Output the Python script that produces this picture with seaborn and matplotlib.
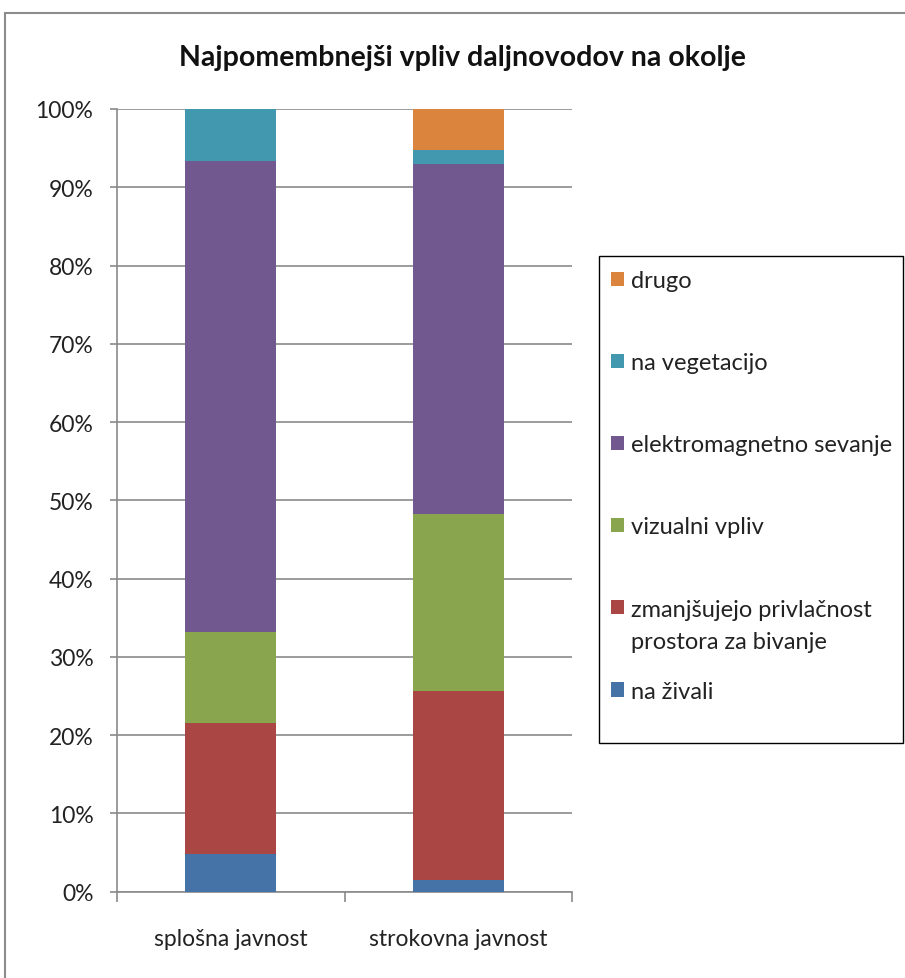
import matplotlib
matplotlib.use("Agg")
import matplotlib.pyplot as plt
import matplotlib.patches as mpatches
from matplotlib.text import Annotation
import seaborn as sns
import numpy as np
import pandas as pd

categories = ["splošna javnost", "strokovna javnost"]
series = ["na živali",
          "zmanjšujejo privlačnost",
          "vizualni vpliv",
          "elektromagnetno sevanje",
          "na vegetacijo",
          "drugo"]
series_second_line = "prostora za bivanje"
na_zivali = [4.8, 1.5]
zmanjsujejo = [16.7, 24.2]
vizualni = [11.7, 22.5]
elektromagnetno = [60.1, 44.8]
na_vegetacijo = [6.7, 1.8]
drugo = [0.0, 5.2]
colors = ["#4572A7", "#AA4643", "#89A54E", "#71588F", "#4198AF", "#DB843D"]
yticks = [0, 10, 20, 30, 40, 50, 60, 70, 80, 90, 100]
ytick_labels = [f"{v}%" for v in yticks]

values = [na_zivali, zmanjsujejo, vizualni, elektromagnetno, na_vegetacijo, drugo]

sns.set_style("white")
plt.rcParams["font.family"] = ["Lato", "DejaVu Sans"]

W, H = 905, 979
fig = plt.figure(figsize=(W / 100, H / 100), dpi=100)
ax = fig.add_axes([117 / W, 86.3 / H, 455 / W, 782.7 / H])

# outer chart border
fig.patches.append(mpatches.Rectangle((5 / W, -0.05), 1.2, (H - 14) / H + 0.05,
                                      transform=fig.transFigure, fill=False,
                                      edgecolor="#8c8c8c", linewidth=1.5, zorder=0))

cum = np.cumsum(np.array(values), axis=0)
df = pd.DataFrame({"cat": categories})
for i in range(len(series) - 1, -1, -1):
    df["v"] = cum[i]
    sns.barplot(data=df, x="cat", y="v", color=colors[i], saturation=1,
                width=0.4, ax=ax, zorder=3, linewidth=0)

grid_c = "#8a8a8a"
ax.set_ylim(0, 100)
ax.set_xlim(-0.5, 1.5)
ax.set_yticks(yticks)
ax.set_yticklabels(ytick_labels, fontsize=16.5, color="#222222")
ax.yaxis.grid(True, color=grid_c, linewidth=1.2, zorder=0)
ax.set_axisbelow(True)
ax.set_xlabel("")
ax.set_ylabel("")
ax.tick_params(axis="y", length=5, width=1.2, color=grid_c, pad=12, left=True)
ax.set_xticks([0, 1])
ax.set_xticklabels(categories, fontsize=16.5, color="#222222")
ax.tick_params(axis="x", which="major", length=0, pad=26)
ax.set_xticks([-0.5, 0.5, 1.5], minor=True)
ax.tick_params(axis="x", which="minor", length=7, width=1.2, color=grid_c, bottom=True)
for s in ["top", "right"]:
    ax.spines[s].set_visible(False)
for s in ["left", "bottom"]:
    ax.spines[s].set_color(grid_c)
    ax.spines[s].set_linewidth(1.2)

fig.text(462 / W, 1 - 58 / H, "Najpomembnejši vpliv daljnovodov na okolje",
         ha="center", va="center", fontsize=20.5, fontweight="bold", color="#111111")

# legend frame
fig.patches.append(mpatches.Rectangle((599 / W, 1 - 744 / H), 304 / W, 487 / H,
                                      transform=fig.transFigure, fill=False,
                                      edgecolor="black", linewidth=1.0, zorder=4))

order = [5, 4, 3, 2, 1, 0]
handles = [mpatches.Patch(facecolor=colors[i], edgecolor="none") for i in order]
labels = [series[i] for i in order]
leg = fig.legend(handles, labels, loc="upper left",
                 bbox_to_anchor=(611 / W, 1 - 271 / H),
                 frameon=False, fontsize=17,
                 handlelength=0.55, handleheight=0.55, handletextpad=0.3,
                 labelspacing=2.59, borderpad=0, borderaxespad=0)
for t in leg.get_texts():
    t.set_color("#222222")

ann = Annotation(series_second_line, xy=(0, 0.5), xycoords=leg.get_texts()[4],
                 xytext=(0, -32), textcoords="offset pixels",
                 ha="left", va="center", fontsize=17, color="#222222")
ann.set_zorder(6)
fig.add_artist(ann)

fig.savefig("out.png", dpi=100, facecolor="white")
